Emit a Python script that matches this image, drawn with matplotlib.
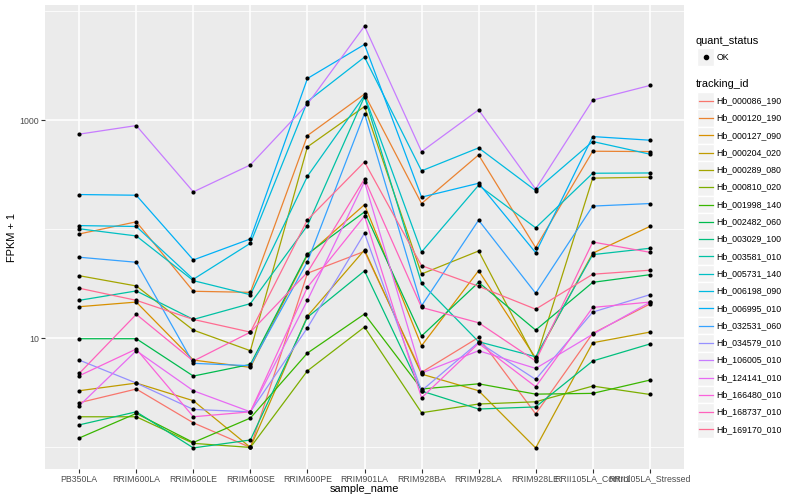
import numpy as np
import matplotlib
matplotlib.use("Agg")
import matplotlib.pyplot as plt
from matplotlib.patches import Rectangle
from matplotlib.lines import Line2D
from matplotlib.ticker import FixedLocator, NullFormatter

plt.rcParams['font.family'] = ['Liberation Sans', 'DejaVu Sans']

samples = ["PB350LA", "RRIM600LA", "RRIM600LE", "RRIM600SE", "RRIM600PE",
           "RRIM901LA", "RRIM928BA", "RRIM928LA", "RRIM928LE",
           "RRII105LA_Control", "RRII105LA_Stressed"]

tracking_ids = ["Hb_000086_190", "Hb_000120_190", "Hb_000127_090", "Hb_000204_020",
                "Hb_000289_080", "Hb_000810_020", "Hb_001998_140", "Hb_002482_060",
                "Hb_003029_100", "Hb_003581_010", "Hb_005731_140", "Hb_006198_090",
                "Hb_006995_010", "Hb_032531_060", "Hb_034579_010", "Hb_106005_010",
                "Hb_124141_010", "Hb_166480_010", "Hb_168737_010", "Hb_169170_010"]

colors = ["#F8766D", "#EA8331", "#D89000", "#C09B00", "#A3A500", "#7CAE00",
          "#39B600", "#00BB4E", "#00BF7D", "#00C1A3", "#00BFC4", "#00BAE0",
          "#00B0F6", "#35A2FF", "#9590FF", "#C77CFF", "#E76BF3", "#FA62DB",
          "#FF62BC", "#FF6C91"]

# FPKM + 1 per sample
Hb_000086_190 = [2.57, 3.43, 1.68, 1.00, 39.5, 62.7, 4.88, 10.2, 2.03, 11.1, 20.6]
Hb_000120_190 = [90.5, 117, 27.0, 26.4, 722, 1732, 172, 480, 67.8, 519, 515]
Hb_000127_090 = [19.5, 21.5, 6.32, 5.42, 58.1, 168, 8.55, 41.7, 6.60, 60.3, 106]
Hb_000204_020 = [3.31, 3.89, 2.68, 1.00, 16.0, 64.6, 4.70, 3.31, 0.99, 9.11, 11.4]
Hb_000289_080 = [37.5, 30.2, 11.9, 7.70, 569, 1333, 38.9, 63.2, 6.32, 294, 300]
Hb_000810_020 = [1.91, 1.91, 1.09, 1.00, 5.04, 12.7, 2.08, 2.50, 2.62, 3.65, 3.06]
Hb_001998_140 = [1.22, 2.05, 1.11, 1.86, 7.33, 16.7, 3.43, 3.83, 3.08, 3.13, 4.14]
Hb_002482_060 = [9.92, 9.92, 4.51, 5.77, 59.3, 144, 10.5, 32.6, 11.9, 32.6, 38.3]
Hb_003029_100 = [1.61, 2.12, 0.99, 1.17, 15.6, 41.5, 3.29, 2.25, 2.35, 6.20, 8.87]
Hb_003581_010 = [22.3, 27.2, 14.9, 20.8, 108, 1646, 32.0, 9.31, 6.78, 58.5, 66.9]
Hb_005731_140 = [101, 86.8, 33.8, 25.1, 306, 1681, 61.9, 253, 103, 326, 328]
Hb_006198_090 = [108, 106, 34.8, 74.4, 1482, 3785, 343, 557, 226, 637, 488]
Hb_006995_010 = [208, 205, 52.3, 81.5, 2410, 4940, 197, 264, 61.0, 707, 655]
Hb_032531_060 = [55.4, 49.8, 5.90, 5.61, 50.4, 1150, 19.9, 121, 25.9, 163, 172]
Hb_034579_010 = [6.32, 3.89, 2.23, 2.12, 12.5, 91.9, 3.31, 9.20, 4.20, 17.4, 25.1]
Hb_106005_010 = [744, 892, 220, 389, 1402, 7280, 515, 1243, 233, 1526, 2078]
Hb_124141_010 = [2.41, 7.70, 3.31, 2.12, 22.3, 273, 4.80, 7.70, 5.30, 10.9, 21.4]
Hb_166480_010 = [4.54, 7.98, 1.91, 2.12, 29.4, 132, 2.85, 9.00, 3.60, 19.2, 21.5]
Hb_168737_010 = [4.77, 16.6, 6.19, 11.4, 40.3, 289, 19.2, 13.9, 6.20, 76.4, 61.5]
Hb_169170_010 = [28.8, 22.3, 14.9, 11.4, 122, 414, 46.4, 30.0, 18.5, 38.7, 42.1]

series = [Hb_000086_190, Hb_000120_190, Hb_000127_090, Hb_000204_020, Hb_000289_080,
          Hb_000810_020, Hb_001998_140, Hb_002482_060, Hb_003029_100, Hb_003581_010,
          Hb_005731_140, Hb_006198_090, Hb_006995_010, Hb_032531_060, Hb_034579_010,
          Hb_106005_010, Hb_124141_010, Hb_166480_010, Hb_168737_010, Hb_169170_010]

W, H = 800, 500
fig = plt.figure(figsize=(W / 100, H / 100), dpi=100)
fig.patch.set_facecolor("white")

# panel in pixel coords: x 45..684, y 5..469
ax = fig.add_axes([45 / W, 1 - 469 / H, (684 - 45) / W, (469 - 5) / H])
ax.set_facecolor("#EBEBEB")

x = np.arange(len(samples))
for vals, c in zip(series, colors):
    ax.plot(x, vals, color=c, lw=0.9, zorder=2, solid_capstyle='round')
for vals in series:
    ax.scatter(x, vals, s=9, color='black', zorder=3, linewidths=0)

ax.set_yscale('log')
allv = np.concatenate([np.asarray(v, float) for v in series])
lo, hi = np.log10(allv.min()), np.log10(allv.max())
pad = 0.05 * (hi - lo)
ax.set_ylim(10 ** (lo - pad), 10 ** (hi + pad))
ax.set_xlim(-0.6, len(samples) - 0.4)

ax.set_xticks(x)
ax.set_xticklabels(samples)
ax.yaxis.set_major_locator(FixedLocator([10, 1000]))
ax.set_yticklabels(["10", "1000"])
ax.yaxis.set_minor_locator(FixedLocator([1, 100, 10000]))
ax.yaxis.set_minor_formatter(NullFormatter())
ax.xaxis.set_minor_locator(FixedLocator([]))

ax.grid(which='major', color='white', lw=1.1)
ax.grid(which='minor', axis='y', color='white', lw=0.55)
ax.set_axisbelow(True)
ax.tick_params(which='minor', length=0)
ax.tick_params(which='major', length=2.6, width=0.8, color='#333333',
               labelsize=6.3, labelcolor='#4D4D4D', pad=1.5)
for s in ax.spines.values():
    s.set_visible(False)

# axis titles
fig.text((45 + 684) / 2 / W, 1 - 489 / H, "sample_name", fontsize=7.9,
         ha='center', va='center')
fig.text(12 / W, 1 - 237 / H, "FPKM + 1", fontsize=7.9, rotation=90,
         ha='center', va='center')

# legends (drawn in figure pixel space)
def fx(px):
    return px / W

def fy(py):
    return 1 - py / H

fig.text(fx(696), fy(40.7), "quant_status", fontsize=7.9, ha='left', va='center')
fig.patches.append(Rectangle((fx(697), fy(65.5)), 17 / W, 17 / H,
                             transform=fig.transFigure, facecolor="#F2F2F2",
                             edgecolor="white", lw=1))
fig.lines.append(Line2D([fx(705.5)], [fy(57)], marker='o', markersize=3,
                        color='black', linestyle='none', transform=fig.transFigure))
fig.text(fx(716.5), fy(57), "OK", fontsize=6.3, ha='left', va='center')

fig.text(fx(696), fy(84.3), "tracking_id", fontsize=7.9, ha='left', va='center')
step = 17.3
for i, (name, c) in enumerate(zip(tracking_ids, colors)):
    yc = 100.7 + step * i
    fig.patches.append(Rectangle((fx(697), fy(yc + step / 2)), 17 / W, step / H,
                                 transform=fig.transFigure, facecolor="#F2F2F2",
                                 edgecolor="white", lw=1))
    fig.lines.append(Line2D([fx(698.5), fx(712.5)], [fy(yc), fy(yc)], color=c,
                            lw=0.9, transform=fig.transFigure))
    fig.text(fx(716.5), fy(yc), name, fontsize=6.3, ha='left', va='center')

fig.savefig("out.png", dpi=100)
